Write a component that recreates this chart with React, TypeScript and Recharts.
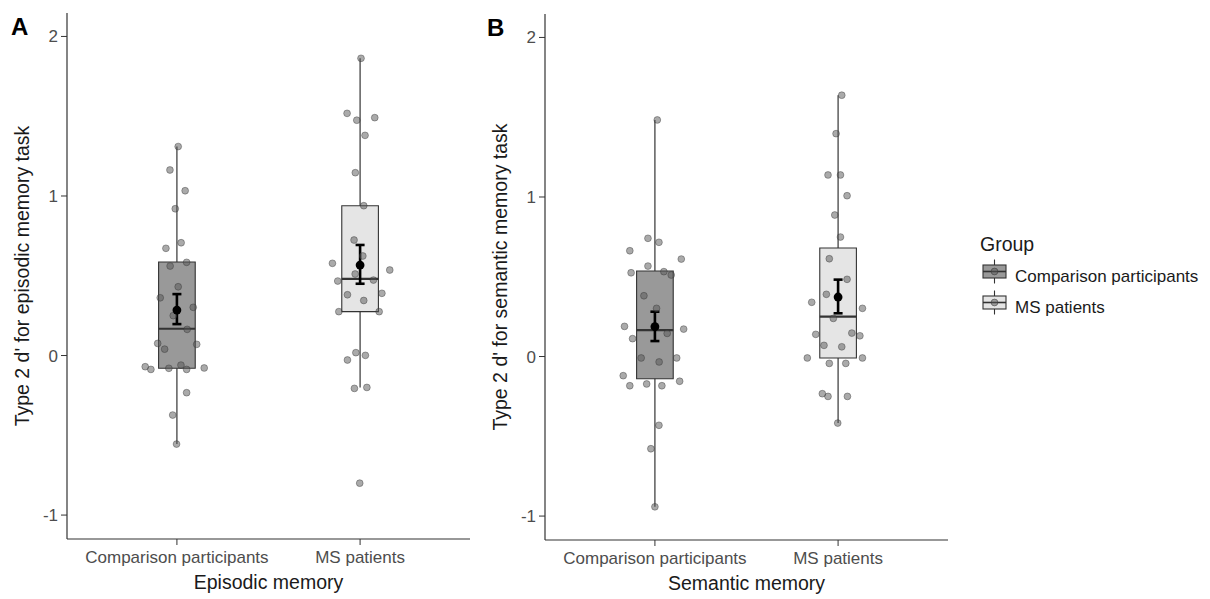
import React from "react";
import {
  ComposedChart,
  ErrorBar,
  Label,
  ReferenceArea,
  ReferenceLine,
  Scatter,
  XAxis,
  YAxis,
} from "recharts";

const groups = ["Comparison participants", "MS patients"];
const yTicks = [-1, 0, 1, 2];

// box stats per group: [lower whisker, q1, median, q3, upper whisker]
const episodicBoxes = [
  [-0.555, -0.08, 0.168, 0.586, 1.31],
  [-0.2, 0.275, 0.48, 0.939, 1.863],
];
const episodicMeans = [0.285, 0.567];
const episodicMeanCI = [
  [0.197, 0.385],
  [0.45, 0.693],
];
const episodicComparisonValues = [
  1.31, 1.163, 1.033, 0.92, 0.707, 0.672, 0.584, 0.561, 0.431, 0.362, 0.25, 0.302, 0.164,
  0.076, 0.07, 0.04, -0.07, -0.087, -0.08, -0.06, -0.087, -0.078, -0.233, -0.373, -0.555,
];
const episodicComparisonJitter = [
  0.007, -0.038, 0.045, -0.009, 0.023, -0.06, 0.053, -0.037, 0.007, -0.091, -0.02, 0.089, 0.056,
  -0.105, 0.108, -0.067, -0.173, -0.142, -0.044, 0.022, 0.053, 0.149, 0.053, -0.023, -0.002,
];
const episodicMSValues = [
  1.863, 1.518, 1.475, 1.491, 1.38, 1.146, 0.939, 0.724, 0.624, 0.578, 0.536, 0.511, 0.467,
  0.473, 0.381, 0.39, 0.345, 0.275, 0.275, 0.018, 0.001, -0.028, -0.206, -0.2, -0.8,
];
const episodicMSJitter = [
  0.005, -0.071, -0.018, 0.08, 0.027, -0.026, 0.02, -0.033, 0.015, -0.151, 0.162, -0.027, -0.122,
  0.073, -0.069, 0.119, 0.02, -0.116, 0.104, -0.023, 0.029, -0.069, -0.031, 0.037, -0.002,
];

const semanticBoxes = [
  [-0.942, -0.139, 0.166, 0.536, 1.483],
  [-0.417, -0.009, 0.25, 0.68, 1.638],
];
const semanticMeans = [0.187, 0.373];
const semanticMeanCI = [
  [0.097, 0.281],
  [0.271, 0.482],
];
const semanticComparisonValues = [
  1.483, 0.741, 0.716, 0.663, 0.611, 0.567, 0.525, 0.532, 0.511, 0.381, 0.302, 0.189, 0.172,
  0.145, 0.112, -0.009, -0.009, -0.034, -0.12, -0.155, -0.183, -0.172, -0.183, -0.431, -0.578,
  -0.942,
];
const semanticComparisonJitter = [
  0.013, -0.038, 0.022, -0.137, 0.144, -0.038, -0.13, 0.049, 0.089, -0.06, 0.009, -0.166, 0.157,
  0.067, -0.122, -0.075, 0.119, 0.023, -0.173, 0.135, -0.137, -0.045, 0.038, 0.022, -0.022, 0,
];
const semanticMSValues = [
  1.638, 1.397, 1.138, 1.138, 1.008, 0.887, 0.749, 0.613, 0.484, 0.39, 0.34, 0.302, 0.239,
  0.139, 0.147, 0.13, 0.07, 0.061, -0.009, -0.009, -0.043, -0.043, -0.233, -0.25, -0.25, -0.417,
];
const semanticMSJitter = [
  0.02, -0.011, -0.055, 0.013, 0.049, -0.018, 0.013, -0.048, 0.049, -0.064, -0.144, 0.133, -0.026,
  -0.122, 0.075, 0.119, -0.077, 0.02, -0.168, 0.133, -0.048, 0.042, -0.086, -0.055, 0.051, -0.002,
];

const FONT = "'Liberation Sans', Arial, sans-serif";
const boxFills = ["#999999", "#e5e5e5"];
const lineColor = "#333333";
const HALF = 0.1;

const toPoints = (group: number, values: number[], jitter: number[]) =>
  values.map((y, i) => ({ x: group + 1 + jitter[i], y }));

const dot = (props: any) => (
  <circle
    cx={props.cx}
    cy={props.cy}
    r={3.4}
    fill="#555555"
    fillOpacity={0.5}
    stroke="#333333"
    strokeOpacity={0.5}
    strokeWidth={0.8}
  />
);

const meanDot = (props: any) => <circle cx={props.cx} cy={props.cy} r={4.4} fill="#000" />;

type PanelProps = {
  xTitle: string;
  yTitle: string;
  boxes: number[][];
  means: number[];
  ci: number[][];
  comparison: { x: number; y: number }[];
  ms: { x: number; y: number }[];
};

function Panel({ xTitle, yTitle, boxes, means, ci, comparison, ms }: PanelProps) {
  const meanData = means.map((m, i) => ({ x: i + 1, y: m, err: [m - ci[i][0], ci[i][1] - m] }));
  const tickStyle = { fill: "#4d4d4d", fontSize: 17, fontFamily: FONT };
  return (
    <ComposedChart width={480} height={599} margin={{ top: 13, right: 10, bottom: 0, left: 0 }}>
      <XAxis
        type="number"
        dataKey="x"
        domain={[0.4, 2.6]}
        ticks={[1, 2]}
        allowDataOverflow
        tickFormatter={(v: number) => groups[v - 1] ?? ""}
        height={60}
        tickSize={6}
        tickMargin={6}
        tick={tickStyle}
        axisLine={{ stroke: lineColor, strokeWidth: 1.2 }}
        tickLine={{ stroke: lineColor }}
      >
        <Label
          value={xTitle}
          position="center"
          dy={13}
          style={{ fontSize: 19.5, fontFamily: FONT, fill: "#1a1a1a" }}
        />
      </XAxis>
      <YAxis
        type="number"
        dataKey="y"
        domain={[-1.15, 2.147]}
        ticks={yTicks}
        allowDataOverflow
        width={67}
        tickSize={6}
        tickMargin={3}
        tick={tickStyle}
        axisLine={{ stroke: lineColor, strokeWidth: 1.2 }}
        tickLine={{ stroke: lineColor }}
      >
        <Label
          value={yTitle}
          angle={-90}
          position="center"
          dx={-11}
          style={{ fontSize: 19.5, fontFamily: FONT, fill: "#1a1a1a" }}
        />
      </YAxis>
      {boxes.map((b, i) => (
        <ReferenceLine
          key={`wl${i}`}
          segment={[
            { x: i + 1, y: b[0] },
            { x: i + 1, y: b[1] },
          ]}
          stroke={lineColor}
          strokeWidth={1.2}
        />
      ))}
      {boxes.map((b, i) => (
        <ReferenceLine
          key={`wu${i}`}
          segment={[
            { x: i + 1, y: b[3] },
            { x: i + 1, y: b[4] },
          ]}
          stroke={lineColor}
          strokeWidth={1.2}
        />
      ))}
      {boxes.map((b, i) => (
        <ReferenceArea
          key={`box${i}`}
          x1={i + 1 - HALF}
          x2={i + 1 + HALF}
          y1={b[1]}
          y2={b[3]}
          fill={boxFills[i]}
          fillOpacity={1}
          stroke={lineColor}
          strokeWidth={1.1}
        />
      ))}
      {boxes.map((b, i) => (
        <ReferenceLine
          key={`med${i}`}
          segment={[
            { x: i + 1 - HALF, y: b[2] },
            { x: i + 1 + HALF, y: b[2] },
          ]}
          stroke={lineColor}
          strokeWidth={2.2}
        />
      ))}
      <Scatter data={comparison} shape={dot} isAnimationActive={false} />
      <Scatter data={ms} shape={dot} isAnimationActive={false} />
      <Scatter data={meanData} shape={meanDot} isAnimationActive={false}>
        <ErrorBar
          dataKey="err"
          direction="y"
          width={4.5}
          stroke="#000"
          strokeWidth={2.6}
          isAnimationActive={false}
        />
      </Scatter>
    </ComposedChart>
  );
}

function LegendKey({ y, fill }: { y: number; fill: string }) {
  const cx = 994.5;
  return (
    <g>
      <line x1={cx} x2={cx} y1={y - 12} y2={y + 12} stroke={lineColor} strokeWidth={1.1} />
      <rect x={983} y={y - 6.5} width={23} height={13} fill={fill} stroke={lineColor} strokeWidth={1.1} />
      <line x1={983} x2={1006} y1={y} y2={y} stroke={lineColor} strokeWidth={1.6} />
      <circle cx={cx} cy={y} r={3.4} fill="#555555" fillOpacity={0.5} stroke="#333" strokeOpacity={0.5} />
    </g>
  );
}

export default function App() {
  return (
    <div
      style={{
        position: "absolute",
        left: 0,
        top: 0,
        width: 1210,
        height: 599,
        background: "#fff",
        fontFamily: FONT,
      }}
    >
      <div style={{ position: "absolute", left: 0, top: 0 }}>
        <Panel
          xTitle="Episodic memory"
          yTitle="Type 2 d' for episodic memory task"
          boxes={episodicBoxes}
          means={episodicMeans}
          ci={episodicMeanCI}
          comparison={toPoints(0, episodicComparisonValues, episodicComparisonJitter)}
          ms={toPoints(1, episodicMSValues, episodicMSJitter)}
        />
      </div>
      <div style={{ position: "absolute", left: 478, top: 1 }}>
        <Panel
          xTitle="Semantic memory"
          yTitle="Type 2 d' for semantic memory task"
          boxes={semanticBoxes}
          means={semanticMeans}
          ci={semanticMeanCI}
          comparison={toPoints(0, semanticComparisonValues, semanticComparisonJitter)}
          ms={toPoints(1, semanticMSValues, semanticMSJitter)}
        />
      </div>
      <svg
        width={1210}
        height={599}
        style={{ position: "absolute", left: 0, top: 0, pointerEvents: "none" }}
      >
        <text x={11} y={35} fontSize={24} fontWeight="bold" fontFamily={FONT} fill="#000">
          A
        </text>
        <text x={487} y={36} fontSize={24} fontWeight="bold" fontFamily={FONT} fill="#000">
          B
        </text>
        <text x={980} y={251} fontSize={19.5} fontFamily={FONT} fill="#1a1a1a">
          Group
        </text>
        <LegendKey y={271.5} fill={boxFills[0]} />
        <text x={1015} y={281.5} fontSize={17} fontFamily={FONT} fill="#1a1a1a">
          {groups[0]}
        </text>
        <LegendKey y={302.5} fill={boxFills[1]} />
        <text x={1015} y={313} fontSize={17} fontFamily={FONT} fill="#1a1a1a">
          {groups[1]}
        </text>
      </svg>
    </div>
  );
}
